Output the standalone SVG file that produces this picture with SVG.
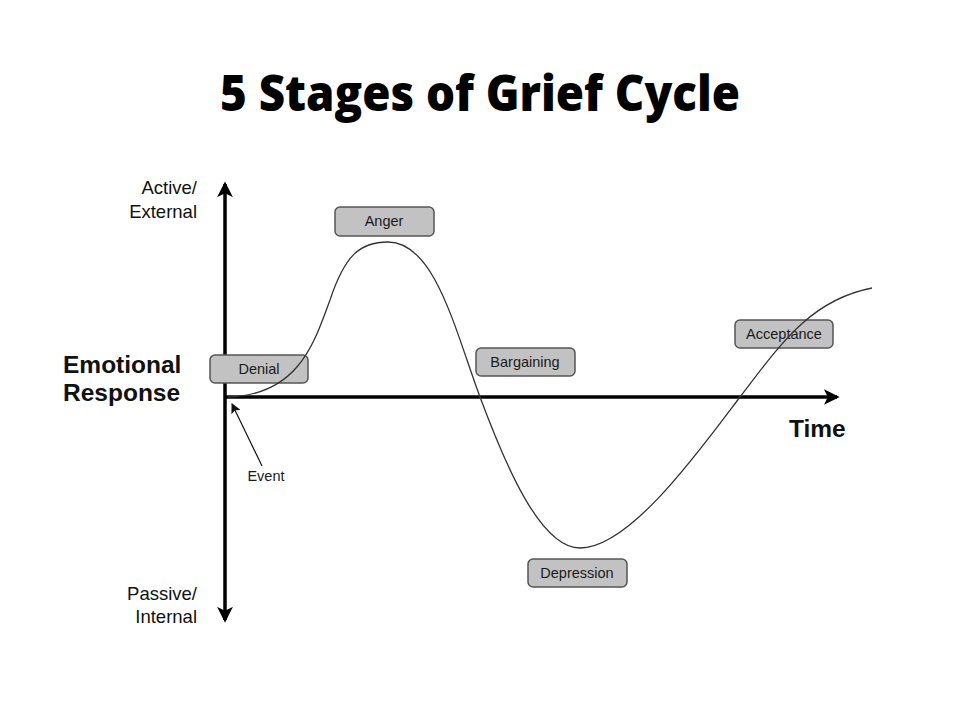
<svg xmlns="http://www.w3.org/2000/svg" width="960" height="720" viewBox="0 0 960 720">
<defs>
<style>
.lbl{font-family:"Liberation Sans",Arial,sans-serif;font-size:18.5px;fill:#111}
.big{font-family:"Liberation Sans",Arial,sans-serif;font-size:24.5px;font-weight:bold;fill:#111}
.box{fill:#c2c2c2;stroke:#555;stroke-width:1.5}
.bt{font-family:"Liberation Sans",Arial,sans-serif;font-size:14.5px;fill:#1a1a1a;text-anchor:middle}
.axis{stroke:#000;stroke-width:3.5;fill:none}
</style>
<marker id="ah" viewBox="0 0 12 12" refX="10" refY="6" markerWidth="4.5" markerHeight="4.5" orient="auto" markerUnits="strokeWidth">
<path d="M0,0 L12,6 L0,12 L3,6 Z" fill="#000"/>
</marker>
<marker id="sh" viewBox="0 0 10 10" refX="9" refY="5" markerWidth="10" markerHeight="10" orient="auto" markerUnits="userSpaceOnUse">
<path d="M0,0 L10,5 L0,10 L2,5 Z" fill="#111"/>
</marker>
</defs>
<rect width="960" height="720" fill="#fff"/>
<text x="480" y="111" text-anchor="middle" font-family="'Open Sans',Lato,sans-serif" font-weight="800" font-size="50" textLength="520" lengthAdjust="spacingAndGlyphs" fill="#000">5 Stages of Grief Cycle</text>

<g id="labels">
<text class="lbl" x="197" y="194" text-anchor="end">Active/</text>
<text class="lbl" x="197" y="218" text-anchor="end">External</text>
<text class="lbl" x="197" y="600" text-anchor="end">Passive/</text>
<text class="lbl" x="197" y="623" text-anchor="end">Internal</text>
<text class="big" x="63" y="373">Emotional</text>
<text class="big" x="63" y="401">Response</text>
<text class="big" x="789" y="437">Time</text>
<text class="bt" x="266" y="481">Event</text>
</g>

<g id="axes">
<line class="axis" x1="225" y1="400" x2="225" y2="184" marker-end="url(#ah)"/>
<line class="axis" x1="225" y1="400" x2="225" y2="620" marker-end="url(#ah)"/>
<line class="axis" x1="224" y1="397" x2="837" y2="397" marker-end="url(#ah)"/>
</g>

<g id="denial"><rect class="box" x="210" y="355" width="98" height="28" rx="5"/><text class="bt" x="259" y="374">Denial</text></g>
<g id="anger"><rect class="box" x="335" y="207" width="99" height="29" rx="5"/><text class="bt" x="384" y="226">Anger</text></g>
<g id="bargaining"><rect class="box" x="476" y="348" width="99" height="28" rx="5"/><text class="bt" x="525" y="367">Bargaining</text></g>
<g id="acceptance"><rect class="box" x="735" y="320" width="98" height="28" rx="5"/><text class="bt" x="784" y="339">Acceptance</text></g>
<g id="depression"><rect class="box" x="528" y="559" width="99" height="28" rx="5"/><text class="bt" x="577" y="578">Depression</text></g>

<g id="connectors">
<path d="M228,397 C300,395 315,340 330,300 C345,255 360,242 388,242 C435,242 455,330 480,397 C505,464 540,548 580,548 C630,548 700,450 740,397 C780,345 810,300 872,288" fill="none" stroke="#333" stroke-width="1.3"/>
<line x1="262" y1="466" x2="232" y2="404" stroke="#111" stroke-width="1.2" marker-end="url(#sh)"/>
</g>
</svg>
